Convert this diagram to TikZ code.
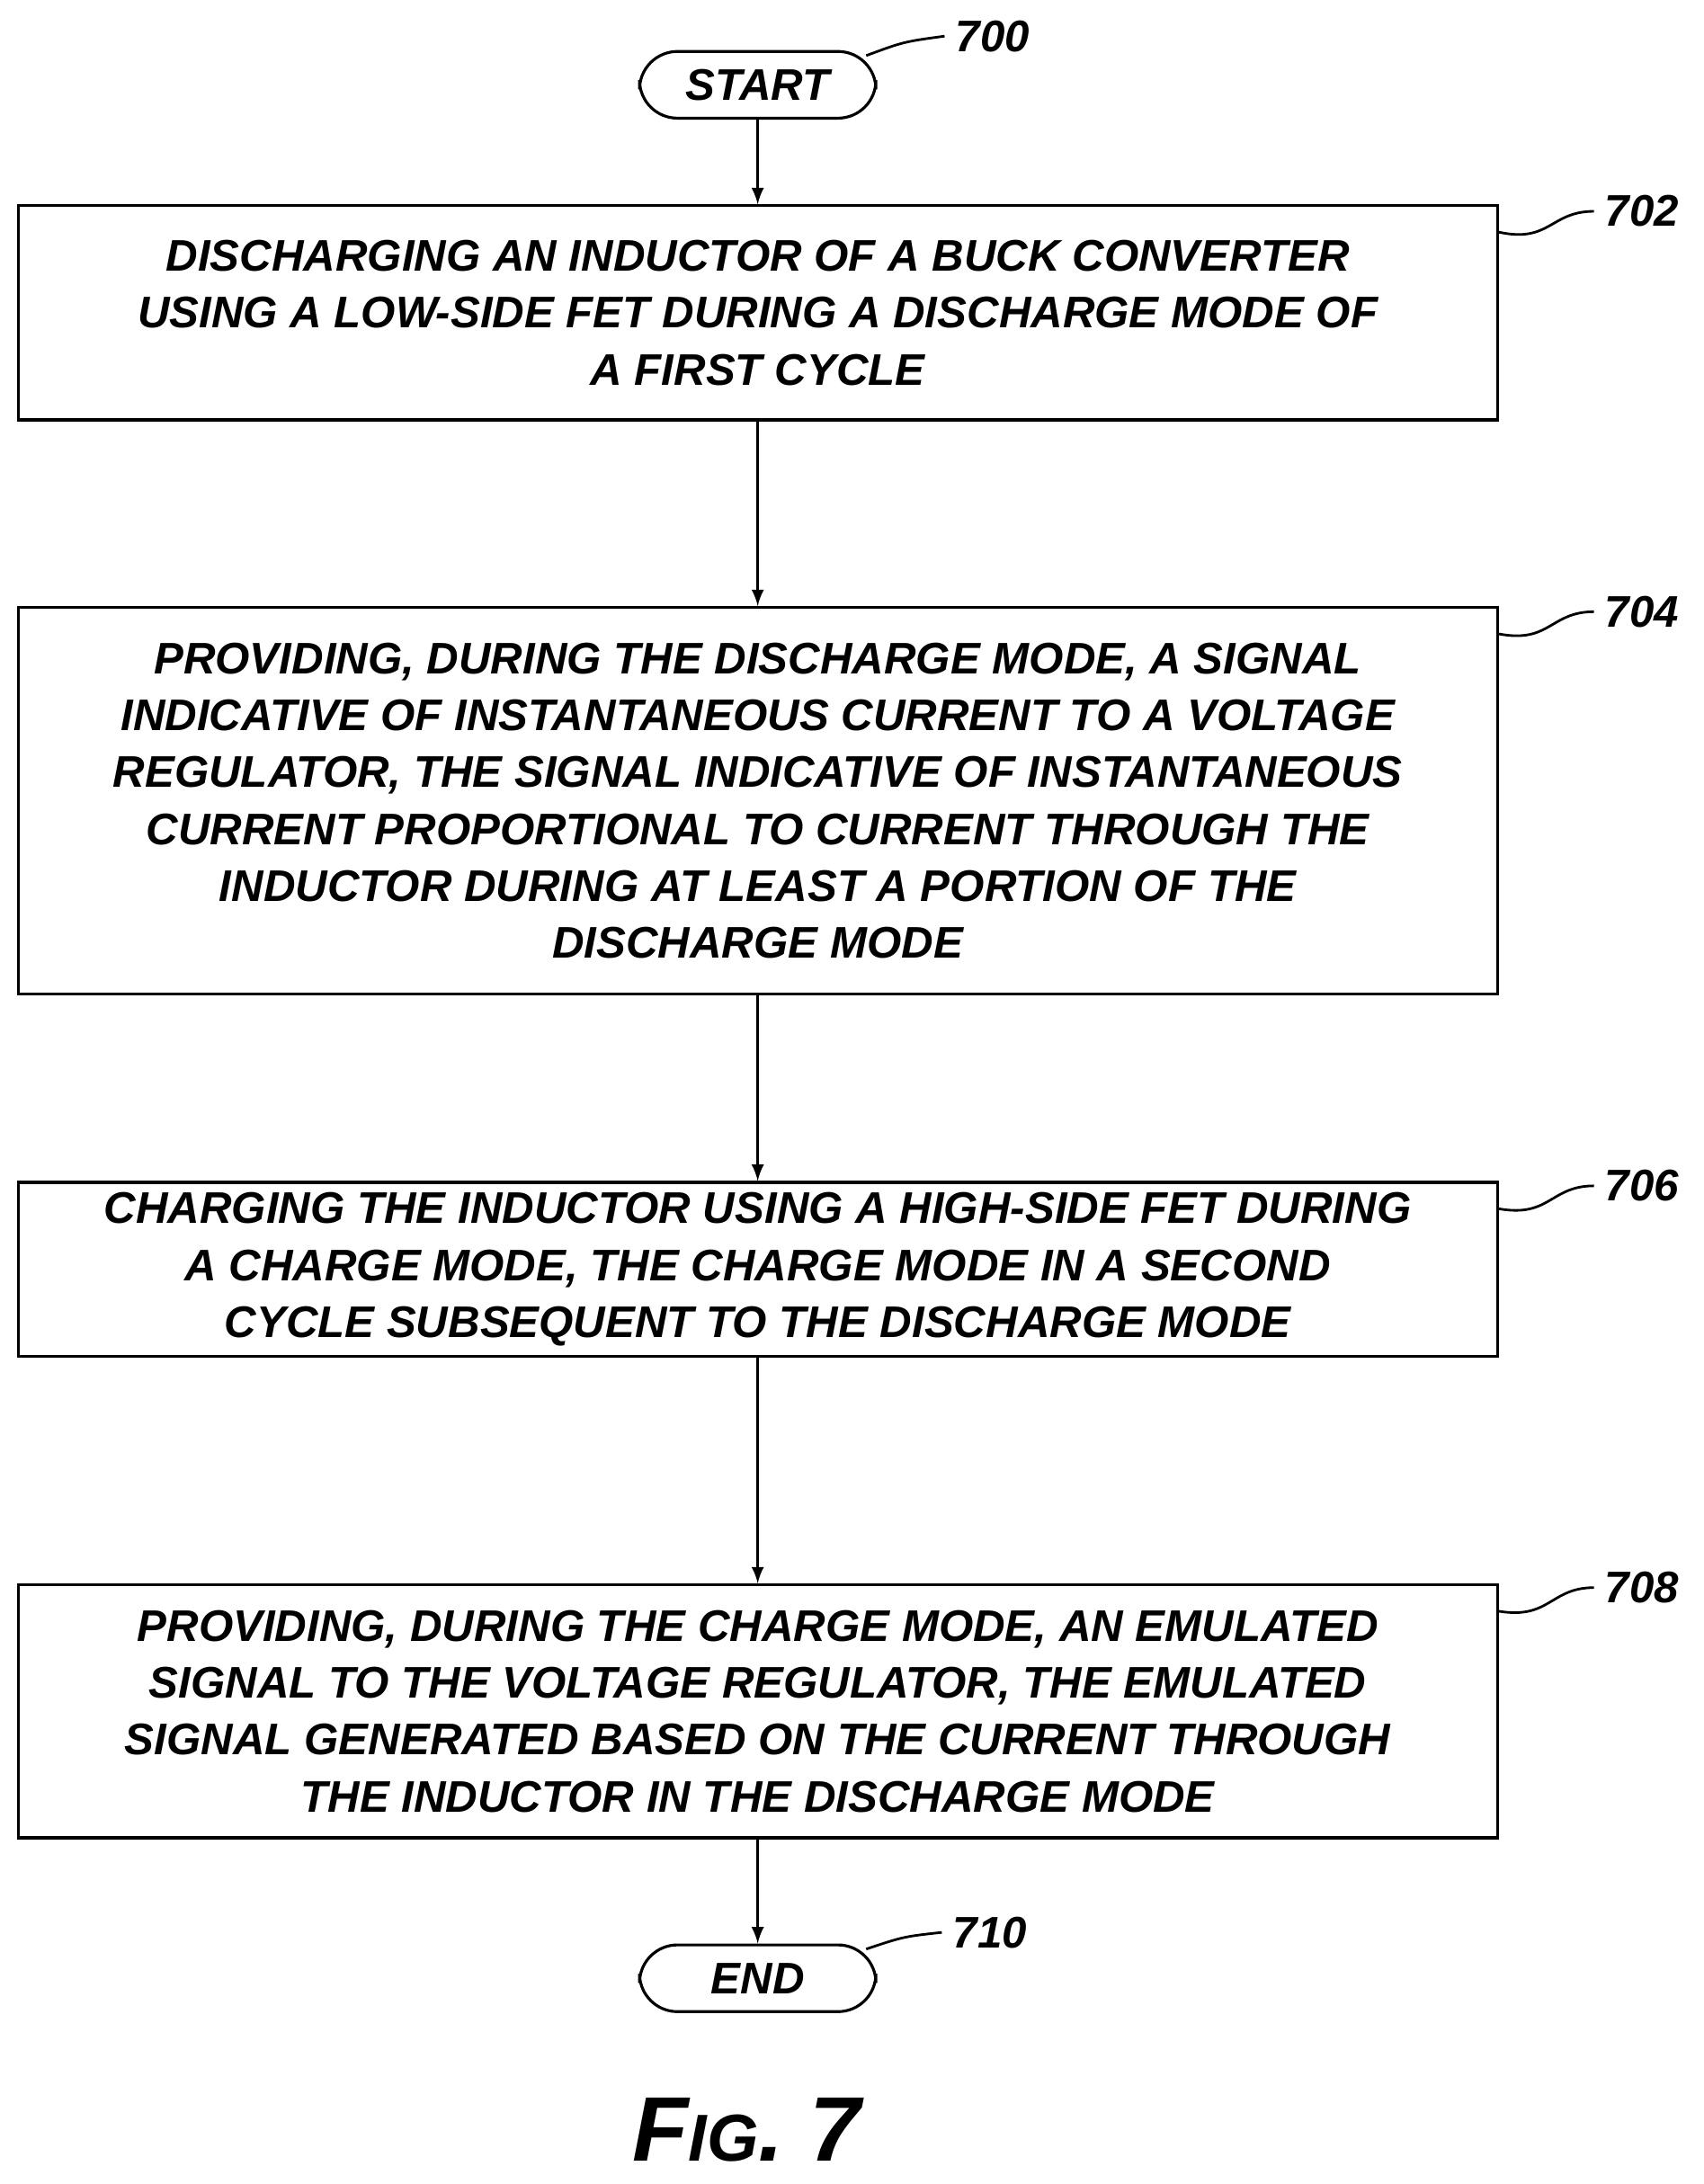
\documentclass[tikz,border=0pt]{standalone}
\usepackage{fontspec}
\setmainfont{Liberation Sans}
\usetikzlibrary{arrows, positioning}

\begin{document}
\begin{tikzpicture}[>=latex, x=0.01546cm, y=-0.01546cm,
    font=\bfseries\itshape\fontsize{14}{18}\selectfont,
    box/.style={draw, line width=0.9pt, minimum width=1064*0.01546cm, align=center, inner sep=0pt},
    term/.style={draw, line width=0.9pt, rounded corners=12pt, minimum width=170*0.01546cm, minimum height=48*0.01546cm},
    ref/.style={font=\bfseries\itshape\fontsize{14}{16}\selectfont}]

\useasboundingbox (0,0) rectangle (1225,1571);

%\draw[step=100,color=gray!40] (0,0) grid (1225,1571);

\node[term] (start) at (545,61) {START};
\node[box, minimum height=154*0.01546cm] (s702) at (545,225) {DISCHARGING AN INDUCTOR OF A BUCK CONVERTER\\USING A LOW-SIDE FET DURING A DISCHARGE MODE OF\\A FIRST CYCLE};
\node[box, minimum height=278*0.01546cm] (s704) at (545,576) {PROVIDING, DURING THE DISCHARGE MODE, A SIGNAL\\INDICATIVE OF INSTANTANEOUS CURRENT TO A VOLTAGE\\REGULATOR, THE SIGNAL INDICATIVE OF INSTANTANEOUS\\CURRENT PROPORTIONAL TO CURRENT THROUGH THE\\INDUCTOR DURING AT LEAST A PORTION OF THE\\DISCHARGE MODE};
\node[box, minimum height=125*0.01546cm] (s706) at (545,913) {CHARGING THE INDUCTOR USING A HIGH-SIDE FET DURING\\A CHARGE MODE, THE CHARGE MODE IN A SECOND\\CYCLE SUBSEQUENT TO THE DISCHARGE MODE};
\node[box, minimum height=182*0.01546cm] (s708) at (545,1231) {PROVIDING, DURING THE CHARGE MODE, AN EMULATED\\SIGNAL TO THE VOLTAGE REGULATOR, THE EMULATED\\SIGNAL GENERATED BASED ON THE CURRENT THROUGH\\THE INDUCTOR IN THE DISCHARGE MODE};
\node[term] (end) at (545,1423) {END};

\draw[->, line width=0.8pt] (start) -- (s702);
\draw[->, line width=0.8pt] (s702) -- (s704);
\draw[->, line width=0.8pt] (s704) -- (s706);
\draw[->, line width=0.8pt] (s706) -- (s708);
\draw[->, line width=0.8pt] (s708) -- (end);

% reference numerals
\node[ref] (n700) at (714,26) {700};
\node[ref] (n702) at (1181,152) {702};
\node[ref] (n704) at (1181,440) {704};
\node[ref] (n706) at (1181,853) {706};
\node[ref] (n708) at (1181,1142) {708};
\node[ref] (n710) at (712,1390) {710};

\draw[line width=0.8pt] (start.north east) ++(-8,4) .. controls (650,30) .. (n700.west);
\draw[line width=0.8pt] (s702.north east) ++(0,20) .. controls (1115,175) and (1115,152) .. (n702.west);
\draw[line width=0.8pt] (s704.north east) ++(0,20) .. controls (1115,463) and (1115,440) .. (n704.west);
\draw[line width=0.8pt] (s706.north east) ++(0,20) .. controls (1115,876) and (1115,853) .. (n706.west);
\draw[line width=0.8pt] (s708.north east) ++(0,20) .. controls (1115,1165) and (1115,1142) .. (n708.west);
\draw[line width=0.8pt] (end.north east) ++(-8,4) .. controls (650,1393) .. (n710.west);

\node[font=\bfseries\itshape\fontsize{29}{32}\selectfont] (fig) at (537,1532) {F{\fontsize{21}{24}\selectfont IG}. 7};

\end{tikzpicture}
\end{document}
